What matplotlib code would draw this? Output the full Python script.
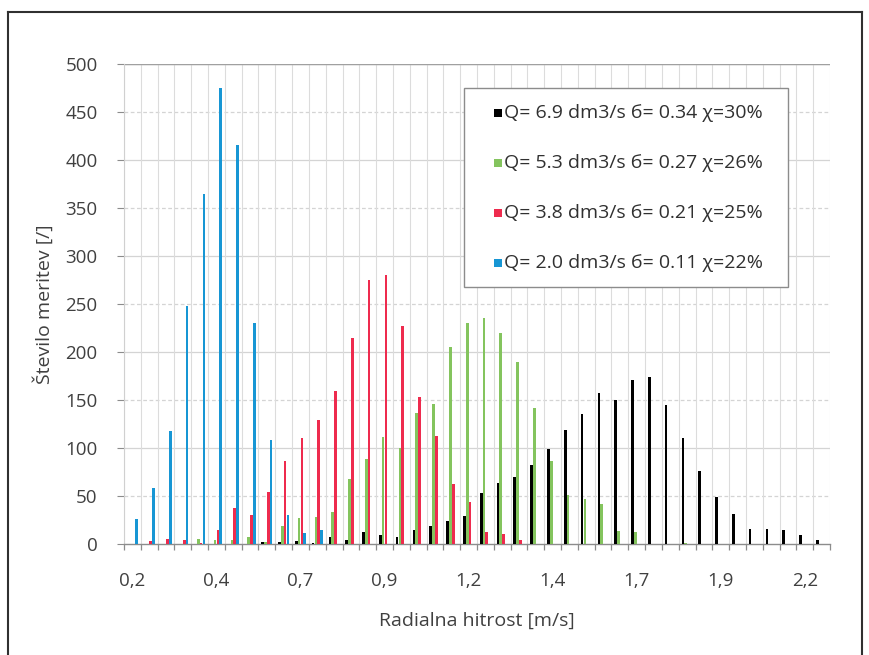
import matplotlib
matplotlib.use("Agg")
import matplotlib.pyplot as plt
import numpy as np
from matplotlib.lines import Line2D
from matplotlib.patches import Rectangle

plt.rcParams['font.family'] = ['Open Sans', 'DejaVu Sans']

categories = [0.20, 0.25, 0.30, 0.35, 0.40, 0.45, 0.50, 0.55, 0.60, 0.65,
              0.70, 0.75, 0.80, 0.85, 0.90, 0.95, 1.00, 1.05, 1.10, 1.15,
              1.20, 1.25, 1.30, 1.35, 1.40, 1.45, 1.50, 1.55, 1.60, 1.65,
              1.70, 1.75, 1.80, 1.85, 1.90, 1.95, 2.00, 2.05, 2.10, 2.15,
              2.20, 2.25]
tick_labels = ['0,2', '0,4', '0,7', '0,9', '1,2', '1,4', '1,7', '1,9', '2,2']

q69 = [0, 0, 0, 0, 0, 0, 0, 0, 2, 2, 3, 1, 7, 4, 12, 9, 7, 15, 19, 24, 29,
       53, 64, 70, 82, 99, 119, 135, 157, 150, 171, 174, 145, 110, 76, 49,
       31, 16, 16, 15, 9, 4]
q53 = [0, 0, 0, 0, 5, 4, 4, 7, 2, 19, 27, 28, 33, 68, 89, 111, 100, 136,
       146, 205, 230, 235, 220, 190, 142, 86, 51, 47, 42, 14, 12, 0, 0, 1,
       0, 0, 0, 0, 0, 0, 0, 0]
q38 = [0, 3, 5, 4, 1, 15, 38, 30, 54, 86, 110, 129, 159, 215, 275, 280, 227,
       153, 113, 63, 44, 13, 10, 4, 0, 0, 0, 0, 0, 0, 0, 0, 0, 0, 0, 0, 0, 0,
       0, 0, 0, 0]
q20 = [26, 58, 118, 248, 365, 475, 416, 230, 108, 30, 11, 15, 0, 0, 0, 0, 0,
       0, 0, 0, 0, 0, 0, 0, 0, 0, 0, 0, 0, 0, 0, 0, 0, 0, 0, 0, 0, 0, 0, 0,
       0, 0]

series_labels = ['Q= 6.9 dm3/s б= 0.34 χ=30%',
                 'Q= 5.3 dm3/s б= 0.27 χ=26%',
                 'Q= 3.8 dm3/s б= 0.21 χ=25%',
                 'Q= 2.0 dm3/s б= 0.11 χ=22%']
colors = ['#000000', '#84c45e', '#ee2b4e', '#1796d4']

W, H = 869, 655
fig = plt.figure(figsize=(W / 100, H / 100), dpi=100)
ax = fig.add_axes([124 / W, 1 - 544 / H, 706 / W, 480 / H])

n = len(categories)
x = np.arange(n)
bw = 0.16
offs = [-0.25, -0.083, 0.083, 0.25]
for vals, c, o in zip([q69, q53, q38, q20], colors, offs):
    ax.bar(x + o, vals, width=bw, color=c, zorder=3, linewidth=0)

ax.set_xlim(-0.5, n - 0.5)
ax.set_ylim(0, 500)
ax.set_yticks(np.arange(0, 501, 50))
ax.set_xticks(x[::5])
ax.set_xticklabels(tick_labels)

# gridlines (data coordinates)
solid = np.arange(100, 501, 100)
dashed = np.arange(50, 451, 100)
ax.hlines(solid, -0.5, n - 0.5, color='#d4d4d4', lw=0.9, zorder=1)
ax.hlines(dashed, -0.5, n - 0.5, color='#d4d4d4', lw=0.9,
          linestyles=(0, (3, 2)), zorder=1)
bounds = np.arange(-0.5, n, 1)
ax.vlines(bounds, 0, 500, color='#dcdcdc', lw=0.8, zorder=1)
ax.hlines([500], -0.5, n - 0.5, color='#a0a0a0', lw=1.0, zorder=2)

# short category tick marks below the axis
ax.vlines(bounds, -6, 0, color='#8c8c8c', lw=0.9, zorder=2, clip_on=False)
ax.set_ylim(0, 500)

for s in ['top', 'right']:
    ax.spines[s].set_visible(False)
ax.spines['left'].set_color('#d0d0d0')
ax.spines['bottom'].set_color('#8c8c8c')
ax.spines['bottom'].set_linewidth(1.0)
ax.tick_params(axis='y', length=5, color='#8c8c8c', pad=14, labelsize=13.5,
               labelcolor='#404040')
ax.tick_params(axis='x', length=0, pad=20, labelsize=13.5,
               labelcolor='#404040')

ax.set_xlabel('Radialna hitrost [m/s]', fontsize=14, color='#404040',
              labelpad=16)
ax.set_ylabel('Število meritev [/]', fontsize=14, color='#404040',
              labelpad=8)

# legend box (manual)
lx0, ly0, lx1, ly1 = 464, 88, 788, 287
fig.patches.append(Rectangle((lx0 / W, 1 - ly1 / H), (lx1 - lx0) / W,
                             (ly1 - ly0) / H, transform=fig.transFigure,
                             facecolor='white', edgecolor='#8c8c8c', lw=1.0,
                             zorder=5))
for k, (lab, c) in enumerate(zip(series_labels, colors)):
    yc = 113 + 50 * k
    fig.patches.append(Rectangle((494 / W, 1 - (yc + 4) / H), 8 / W, 8 / H,
                                 transform=fig.transFigure, facecolor=c,
                                 edgecolor='none', zorder=6))
    fig.text(504 / W, 1 - yc / H, lab, fontsize=14, color='#303030',
             va='center', ha='left', zorder=7)

# outer frame
fig.add_artist(Line2D([8 / W, 8 / W], [0, 1 - 12 / H], color='#303030',
                      lw=1.5, transform=fig.transFigure))
fig.add_artist(Line2D([8 / W, 862 / W], [1 - 12 / H, 1 - 12 / H],
                      color='#303030', lw=1.5, transform=fig.transFigure))
fig.add_artist(Line2D([862 / W, 862 / W], [0, 1 - 12 / H], color='#303030',
                      lw=1.5, transform=fig.transFigure))

fig.savefig('out.png', dpi=100)
